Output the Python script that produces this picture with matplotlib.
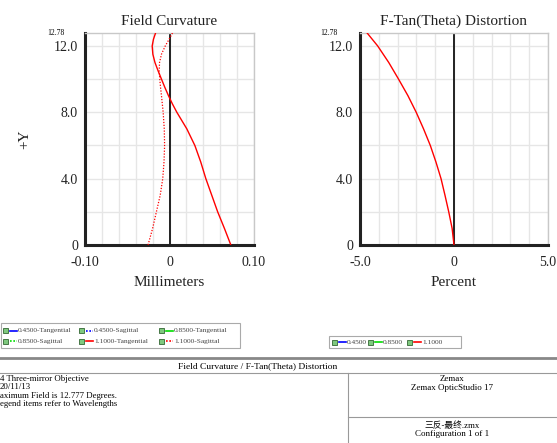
import matplotlib

matplotlib.use("Agg")

import matplotlib.pyplot as plt
from matplotlib.patches import Rectangle

plt.rcParams["font.family"] = ["Liberation Serif", "Noto Sans CJK SC"]

# field heights (degrees) and curves
# (all wavelengths coincide for this mirror system, only the 1.1000 curve shows)
FIELD_Y = [0, 1, 2, 3, 4, 5, 6, 7, 8, 8.5, 9, 9.5, 10, 10.5, 11, 11.5, 12, 12.4, 12.78]
TANGENTIAL = [0.0726, 0.065, 0.057, 0.050, 0.043, 0.037, 0.030, 0.0205, 0.0087, 0.0035,
              -0.0012, -0.0055, -0.0095, -0.0135, -0.0172, -0.0197, -0.0205, -0.019, -0.0165]
SAGITTAL = [-0.0254, -0.020, -0.0155, -0.011, -0.008, -0.0065, -0.0058, -0.0062, -0.0075, -0.0085,
            -0.0095, -0.0106, -0.0115, -0.0122, -0.0118, -0.0095, -0.005, -0.0005, 0.0035]

DIST_Y = [0, 1, 2, 3, 4, 5, 6, 7, 8, 9, 10, 11, 12, 12.78]
DISTORTION = [0, -0.10, -0.28, -0.48, -0.69, -0.96, -1.26, -1.62, -2.01, -2.45, -2.95, -3.47, -4.06, -4.62]

WAVELENGTHS = ["0.4500", "0.8500", "1.1000"]
WAVE_COLORS = ["#0000ff", "#00dd00", "#ff0000"]
MAX_FIELD = 12.78

FC_LEGEND = [
    ("0.4500-Tangential", "#0000ff", "-"),
    ("0.4500-Sagittal", "#0000ff", ":"),
    ("0.8500-Tangential", "#00dd00", "-"),
    ("0.8500-Sagittal", "#00dd00", ":"),
    ("1.1000-Tangential", "#ff0000", "-"),
    ("1.1000-Sagittal", "#ff0000", ":"),
]

W, H = 557, 443
fig = plt.figure(figsize=(W / 100, H / 100), dpi=100)
fig.patch.set_facecolor("white")


def px_axes(x0, y0, x1, y1):
    return fig.add_axes([x0 / W, 1 - y1 / H, (x1 - x0) / W, (y1 - y0) / H])


def style_axes(ax, xlim, xstep, xticks, xlabels, title, xlabel):
    ax.set_xlim(*xlim)
    ax.set_ylim(0, MAX_FIELD)
    n = int(round((xlim[1] - xlim[0]) / xstep))
    ax.set_xticks([xlim[0] + i * xstep for i in range(n + 1)], minor=True)
    ax.set_xticks(xticks)
    ax.set_xticklabels(xlabels)
    ax.set_yticks([2, 6, 10], minor=True)
    ax.set_yticks([0, 4, 8, 12])
    ax.set_yticklabels(["0", "4.0", "8.0", "12.0"])
    ax.grid(True, which="both", color="#e6e6e6", lw=1)
    ax.set_axisbelow(True)
    ax.tick_params(which="both", length=0, labelsize=10, pad=5, labelcolor="#222222")
    ax.tick_params(axis="x", pad=8)
    for s in ("top", "right"):
        ax.spines[s].set_color("#c8c8c8")
        ax.spines[s].set_linewidth(1)
    for s in ("left", "bottom"):
        ax.spines[s].set_color("#222222")
        ax.spines[s].set_linewidth(2.2)
    ax.axvline(0, color="#222222", lw=1.4, zorder=1)
    ax.set_title(title, fontsize=11, pad=6, color="#222222")
    ax.set_xlabel(xlabel, fontsize=11, labelpad=5, color="#222222")
    ax.text(-0.12, MAX_FIELD, "12.78", transform=ax.get_yaxis_transform(),
            fontsize=5.5, ha="right", va="center")


# field curvature
ax1 = px_axes(85, 33, 254, 245)
ax1.plot(TANGENTIAL, FIELD_Y, color=WAVE_COLORS[2], lw=1, zorder=3)
ax1.plot(SAGITTAL, FIELD_Y, color=WAVE_COLORS[2], lw=0.9, ls=(0, (1, 1.3)), zorder=3)
style_axes(ax1, (-0.1, 0.1), 0.02, [-0.1, 0, 0.1], ["-0.10", "0", "0.10"],
           "Field Curvature", "Millimeters")
ax1.set_ylabel("+Y", fontsize=11, labelpad=16, color="#222222")

# f-tan(theta) distortion
ax2 = px_axes(360, 33, 548, 245)
ax2.plot(DISTORTION, DIST_Y, color=WAVE_COLORS[2], lw=1, zorder=3)
style_axes(ax2, (-5, 5), 1, [-5, 0, 5], ["-5.0", "0", "5.0"],
           "F-Tan(Theta) Distortion", "Percent")

# overlay in pixel coordinates for legends and the info block
ov = fig.add_axes([0, 0, 1, 1])
ov.set_xlim(0, W)
ov.set_ylim(H, 0)
ov.axis("off")


def legend_item(x, y, label, color, ls):
    ov.add_patch(Rectangle((x, y - 2.5), 5, 5, facecolor="#7ec87e", edgecolor="#336633", lw=0.6))
    ov.plot([x + 6.5, x + 14], [y, y], color=color, lw=1.2, ls=ls if ls == "-" else (0, (1, 1)))
    ov.text(x + 15, y, label, fontsize=5.3, va="center", ha="left", color="#444444")


ov.add_patch(Rectangle((1, 323), 239, 25, facecolor="none", edgecolor="#aaaaaa", lw=0.8))
col_x = [3, 79, 159]
for i, (label, color, ls) in enumerate(FC_LEGEND):
    legend_item(col_x[i % 3], 330.5 if i < 3 else 341, label, color, ls)

ov.add_patch(Rectangle((329, 336), 132, 12, facecolor="none", edgecolor="#aaaaaa", lw=0.8))
for x, label, color in zip([332, 368, 407], WAVELENGTHS, WAVE_COLORS):
    legend_item(x, 342, label, color, "-")

# info block
ov.plot([0, W], [358, 358], color="#888888", lw=2)
ov.plot([0, W], [373, 373], color="#999999", lw=0.8)
ov.plot([348, 348], [373, H], color="#999999", lw=0.8)
ov.plot([348, W], [417, 417], color="#999999", lw=0.8)
ov.text(258, 366, "Field Curvature / F-Tan(Theta) Distortion", fontsize=6.8, ha="center", va="center")
info = ["4 Three-mirror Objective", "20/11/13", "aximum Field is 12.777 Degrees.",
        "egend items refer to Wavelengths"]
for i, line in enumerate(info):
    ov.text(0, 379 + i * 8.3, line, fontsize=6.3, ha="left", va="center")
ov.text(452, 379, "Zemax", fontsize=6.5, ha="center", va="center")
ov.text(452, 388, "Zemax OpticStudio 17", fontsize=6.5, ha="center", va="center")
ov.text(452, 426, "三反-最终.zmx", fontsize=6.3, ha="center", va="center")
ov.text(452, 434, "Configuration 1 of 1", fontsize=6.5, ha="center", va="center")

fig.savefig("out.png", dpi=100)
